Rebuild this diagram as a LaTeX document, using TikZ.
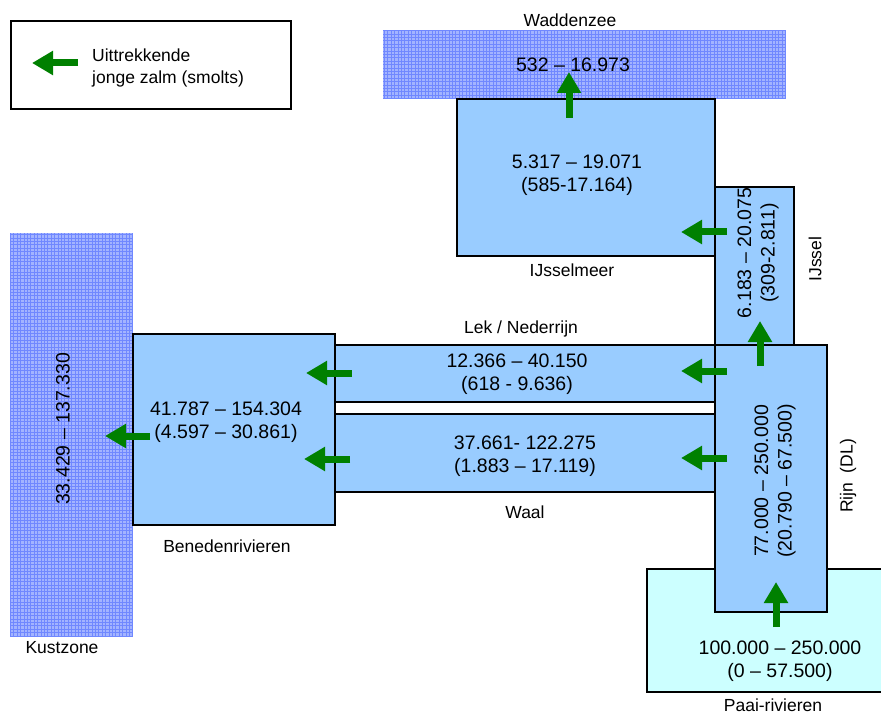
\documentclass[tikz,border=0pt]{standalone}
\usepackage{fontspec}
\setmainfont{Liberation Sans}
\usetikzlibrary{arrows.meta}
\definecolor{boxblue}{HTML}{99CCFF}
\definecolor{paai}{HTML}{CCFFFF}
\definecolor{seafill}{HTML}{A3B4FF}
\definecolor{sealine}{HTML}{7088FF}
\definecolor{arrgreen}{HTML}{008000}
\begin{document}
\begin{tikzpicture}[x=1pt,y=-1pt,
 box/.style={draw=black, line width=1.6pt, fill=boxblue, inner sep=0pt, outer sep=0pt, anchor=north west},
 sea/.style={fill=seafill, draw=none, inner sep=0pt, outer sep=0pt, anchor=north west},
 num/.style={font=\fontsize{19.5}{23.5}\selectfont, align=center, inner sep=0pt},
 lbl/.style={font=\fontsize{17.5}{22}\selectfont, align=left, inner sep=0pt},
 fish/.style={draw=arrgreen, line width=7pt, -{Triangle[length=21pt,width=23pt]}},
]
\useasboundingbox (0,0) rectangle (881,714);
% legend
\node[draw=black, line width=1.6pt, fill=white, inner sep=0pt, anchor=north west, minimum width=280pt, minimum height=88pt] (legend) at (10,20) {};
\coordinate (lgT) at (78,63); \coordinate (lgH) at (32,63);
\draw[fish] (lgT) -- (lgH);
\node[lbl, anchor=west] (legtxt) at (92,68) {Uittrekkende\\jonge zalm (smolts)};
% sea areas
\node[sea, minimum width=403pt, minimum height=69pt] (wad) at (383,30) {};
\begin{scope}
\clip (383,30) rectangle (786,99);
\draw[sealine, line width=0.6pt, step=3.4pt] (383,30) grid (786,99);
\end{scope}
\node[sea, minimum width=123pt, minimum height=404pt] (kust) at (10,233) {};
\begin{scope}
\clip (10,233) rectangle (133,637);
\draw[sealine, line width=0.6pt, step=3.4pt] (10,233) grid (133,637);
\end{scope}
% boxes
\node[box, fill=paai, line width=1.2pt, minimum width=240pt, minimum height=123pt] (paai) at (647,569) {};
\node[box, minimum width=258pt, minimum height=157pt] (ijm) at (457,99) {};
\node[box, minimum width=79pt, minimum height=159pt] (ijs) at (715,187) {};
\node[box, minimum width=380pt, minimum height=57pt] (lek) at (335,345) {};
\node[box, minimum width=380pt, minimum height=78pt] (waal) at (335,414) {};
\node[box, minimum width=112pt, minimum height=267pt] (rijn) at (715,345) {};
\node[box, minimum width=202pt, minimum height=191pt] (bened) at (133,334) {};
% labels
\node[lbl] (lwad) at (570,20) {Waddenzee};
\node[lbl] (lijm) at (572,270) {IJsselmeer};
\node[lbl, rotate=90] (lijs) at (815,259) {IJssel};
\node[lbl] (llek) at (521,329) {Lek / Nederrijn};
\node[lbl] (lwaal) at (525,512) {Waal};
\node[lbl, rotate=90] (lrijn) at (848,476) {Rijn~~(DL)};
\node[lbl] (lbened) at (227,546) {Benedenrivieren};
\node[lbl] (lkust) at (62,648) {Kustzone};
\node[lbl] (lpaai) at (773,705) {Paai-rivieren};
% numbers
\node[num] (nwad) at (573,65) {532 – 16.973};
\node[num] (nijm) at (577,175) {5.317 – 19.071\\(585-17.164)};
\node[num, rotate=90] (nijs) at (758,253) {6.183 – 20.075\\(309-2.811)};
\node[num] (nlek) at (517,374) {12.366 – 40.150\\(618 - 9.636)};
\node[num] (nwaal) at (525,456) {37.661- 122.275\\(1.883 – 17.119)};
\node[num, rotate=90] (nrijn) at (775,481) {77.000 – 250.000\\(20.790 – 67.500)};
\node[num] (nbened) at (226,422) {41.787 – 154.304\\(4.597 – 30.861)};
\node[num, rotate=90] (nkust) at (63,429) {33.429 – 137.330};
\node[num] (npaai) at (780,661) {100.000 – 250.000\\(0 – 57.500)};
% migration arrows
\coordinate (a1t) at (569,118); \coordinate (a1h) at (569,72);
\coordinate (a2t) at (727,232); \coordinate (a2h) at (681,232);
\coordinate (a3t) at (760,366); \coordinate (a3h) at (760,321);
\coordinate (a4t) at (727,371); \coordinate (a4h) at (681,371);
\coordinate (a5t) at (727,458); \coordinate (a5h) at (681,458);
\coordinate (a6t) at (352,373); \coordinate (a6h) at (306,373);
\coordinate (a7t) at (350,459); \coordinate (a7h) at (304,459);
\coordinate (a8t) at (150,436); \coordinate (a8h) at (105,436);
\coordinate (a9t) at (776,627); \coordinate (a9h) at (776,582);
\foreach \i in {1,...,9} {\draw[fish] (a\i t) -- (a\i h);}
\end{tikzpicture}
\end{document}
